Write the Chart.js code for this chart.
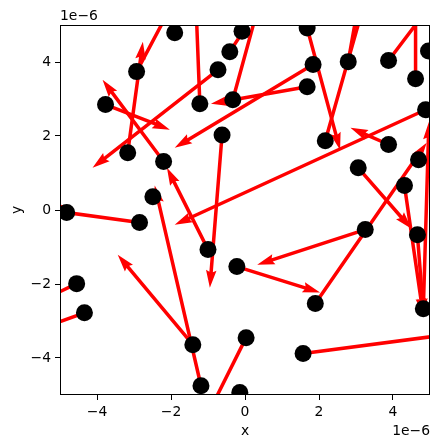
<!DOCTYPE html>
<html><head><meta charset="utf-8">
<script src="https://cdn.jsdelivr.net/npm/chart.js@4/dist/chart.umd.min.js"></script>
<style>html,body{margin:0;padding:0;background:#fff}#wrap{width:439px;height:448px;position:relative}</style>
</head><body><div id="wrap"><canvas id="c" width="439" height="448"></canvas></div>
<script>
// point positions (data units, 1e-6 scale)
const pointX = [-1.90e-6,-0.08e-6,1.68e-6,-0.41e-6,-2.93e-6,-0.73e-6,1.84e-6,2.79e-6,3.88e-6,4.61e-6,4.96e-6,
  -3.77e-6,-1.22e-6,-0.33e-6,1.68e-6,4.88e-6,-0.62e-6,2.17e-6,-3.17e-6,3.88e-6,-2.20e-6,3.06e-6,4.69e-6,4.31e-6,
  -4.82e-6,-2.85e-6,-2.49e-6,-1.00e-6,3.25e-6,4.66e-6,-0.22e-6,-4.55e-6,1.90e-6,4.82e-6,-4.34e-6,-1.41e-6,0.03e-6,
  1.57e-6,-1.19e-6,-0.14e-6];
const pointY = [4.79e-6,4.83e-6,4.92e-6,4.28e-6,3.74e-6,3.79e-6,3.93e-6,4.01e-6,4.04e-6,3.55e-6,4.30e-6,
  2.85e-6,2.87e-6,2.98e-6,3.33e-6,2.71e-6,2.03e-6,1.87e-6,1.55e-6,1.77e-6,1.31e-6,1.14e-6,1.36e-6,0.66e-6,
  -0.07e-6,-0.34e-6,0.36e-6,-1.07e-6,-0.53e-6,-0.67e-6,-1.53e-6,-1.99e-6,-2.53e-6,-2.67e-6,-2.78e-6,-3.64e-6,-3.45e-6,
  -3.88e-6,-4.75e-6,-4.93e-6];
// arrow vectors (u, v), tail at each point
const arrowU = [0.0e-6,0.1e-6,0.89e-6,0.92e-6,1.03e-6,-3.39e-6,-3.74e-6,0.3e-6,1.24e-6,0.0e-6,1.0e-6,
  1.74e-6,-0.11e-6,0.74e-6,-2.60e-6,-6.78e-6,-0.33e-6,1.19e-6,0.41e-6,-1.03e-6,-1.65e-6,1.44e-6,0.05e-6,0.51e-6,
  -0.5e-6,-3.05e-6,0.1e-6,-1.11e-6,-2.92e-6,0.17e-6,2.25e-6,-1.14e-6,3.01e-6,0.15e-6,-1.36e-6,-2.03e-6,-1.11e-6,
  4.26e-6,-1.25e-6,0.5e-6];
const arrowV = [1.0e-6,1.0e-6,-3.30e-6,1.40e-6,1.94e-6,-2.65e-6,-2.25e-6,1.7e-6,1.64e-6,2.2e-6,0.0e-6,
  -0.68e-6,2.81e-6,2.70e-6,-0.46e-6,-3.11e-6,-4.13e-6,4.20e-6,3.00e-6,0.45e-6,2.21e-6,-1.65e-6,0.05e-6,-3.52e-6,
  0.3e-6,0.42e-6,0.1e-6,2.21e-6,-0.95e-6,-2.19e-6,-0.70e-6,-0.55e-6,4.35e-6,5.05e-6,-0.49e-6,2.43e-6,-2.22e-6,
  0.56e-6,5.41e-6,-1.0e-6];
const xTickValues = [-4e-6,-2e-6,0,2e-6,4e-6];
const yTickValues = [-4e-6,-2e-6,0,2e-6,4e-6];
const axisMin = -5e-6, axisMax = 5e-6;
const offsetText = '1e\u22126';
const xTitle = 'x', yTitle = 'y';

const FONT = '13.9px "DejaVu Sans"';
function fmt(v){ const n = Math.round(v*1e6); return n < 0 ? '\u2212' + Math.abs(n) : String(n); }

const quiverPlugin = {
  id: 'quiver',
  beforeDatasetsDraw(chart){
    const {ctx, chartArea:a, scales:{x, y}} = chart;
    ctx.save();
    ctx.beginPath(); ctx.rect(a.left, a.top, a.right-a.left, a.bottom-a.top); ctx.clip();
    ctx.fillStyle = '#ff0000';
    const w = 3.5;
    for (let i = 0; i < pointX.length; i++){
      const x0 = x.getPixelForValue(pointX[i]), y0 = y.getPixelForValue(pointY[i]);
      const x1 = x.getPixelForValue(pointX[i]+arrowU[i]), y1 = y.getPixelForValue(pointY[i]+arrowV[i]);
      const L = Math.hypot(x1-x0, y1-y0);
      if (L < 1) continue;
      let ww = w; if (L < 5*w) ww = L/5;
      const ang = Math.atan2(y1-y0, x1-x0);
      const pts = [[0,-ww/2],[L-4.5*ww,-ww/2],[L-5*ww,-1.5*ww],[L,0],[L-5*ww,1.5*ww],[L-4.5*ww,ww/2],[0,ww/2]];
      const c = Math.cos(ang), s = Math.sin(ang);
      ctx.beginPath();
      pts.forEach((p,k)=>{ const px = x0 + p[0]*c - p[1]*s, py = y0 + p[0]*s + p[1]*c; k ? ctx.lineTo(px,py) : ctx.moveTo(px,py); });
      ctx.closePath(); ctx.fill();
    }
    ctx.restore();
  },
  afterDraw(chart){
    const {ctx, chartArea:a} = chart;
    ctx.save();
    ctx.strokeStyle = '#000'; ctx.lineWidth = 1;
    ctx.strokeRect(Math.round(a.left)+0.5, Math.round(a.top)+0.5, Math.round(a.right-a.left)-1, Math.round(a.bottom-a.top)-1);
    ctx.fillStyle = '#000'; ctx.font = FONT;
    ctx.textBaseline = 'alphabetic';
    ctx.textAlign = 'left'; ctx.fillText(offsetText, a.left, 20);
    ctx.textAlign = 'right'; ctx.fillText(offsetText, a.right, 435);
    ctx.textAlign = 'center'; ctx.fillText(xTitle, (a.left+a.right)/2, 435);
    ctx.translate(21, (a.top+a.bottom)/2); ctx.rotate(-Math.PI/2);
    ctx.fillText(yTitle, 0, 0);
    ctx.restore();
  }
};

const scaleCommon = (ticksVals) => ({
  type: 'linear', min: axisMin, max: axisMax,
  afterBuildTicks(s){ s.ticks = ticksVals.map(v=>({value:v})); },
  grid: { drawOnChartArea:false, drawTicks:true, tickLength:5, color:'#000', lineWidth:1 },
  border: { display:false },
  ticks: { color:'#000', font:{family:'DejaVu Sans', size:13.9}, padding:4, callback:(v)=>fmt(v), autoSkip:false, maxRotation:0 }
});

const xs = scaleCommon(xTickValues);
xs.position = 'bottom';
xs.afterFit = (s)=>{ s.height = 53; };
const ysc = scaleCommon(yTickValues);
ysc.position = 'left';
ysc.afterFit = (s)=>{ s.width = 60; };

new Chart(document.getElementById('c'), {
  type: 'scatter',
  data: { datasets: [{ data: pointX.map((v,i)=>({x:v, y:pointY[i]})), backgroundColor:'#000', borderColor:'#000', pointRadius:8.5, pointHoverRadius:8.5, borderWidth:0, clip:0 }] },
  options: {
    responsive:false, animation:false, devicePixelRatio:1,
    layout: { padding: { left:0, top:25, right:9, bottom:0 } },
    plugins: { legend:{display:false}, tooltip:{enabled:false} },
    scales: { x: xs, y: ysc }
  },
  plugins: [quiverPlugin]
});
</script>
</body></html>
